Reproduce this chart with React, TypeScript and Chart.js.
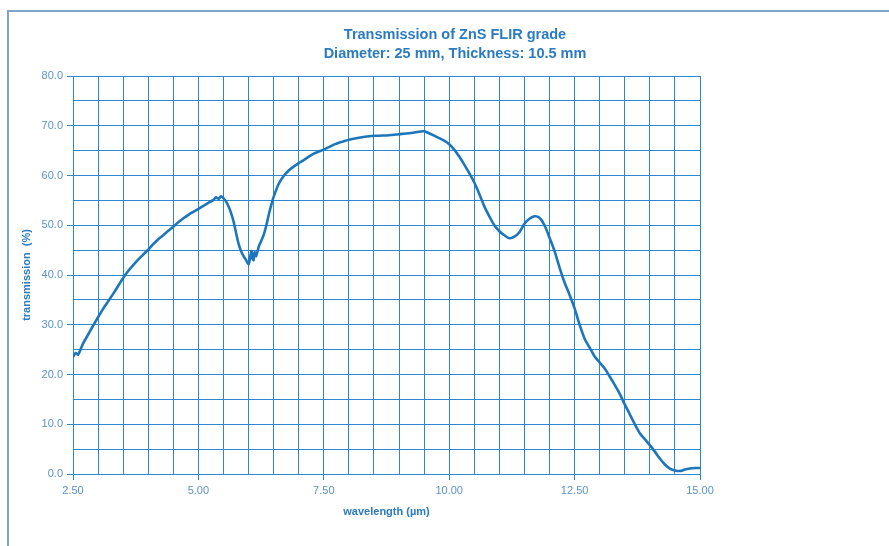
import React, { useEffect, useRef } from "react";
import { Chart, registerables } from "chart.js";

Chart.register(...registerables);

const TITLE_LINES = ["Transmission of ZnS FLIR grade", "Diameter: 25 mm, Thickness: 10.5 mm"];
const X_TITLE = "wavelength (µm)";
const Y_TITLE = "transmission  (%)";

const wavelengths = [
  2.5, 2.55, 2.6, 2.7, 2.8, 2.9, 3.0, 3.1, 3.2, 3.3, 3.4, 3.5, 3.6, 3.7, 3.8, 3.9,
  4.0, 4.1, 4.2, 4.3, 4.4, 4.5, 4.6, 4.7, 4.8, 4.9, 5.0, 5.1, 5.2, 5.3, 5.35, 5.4,
  5.45, 5.5, 5.55, 5.6, 5.65, 5.7, 5.75, 5.8, 5.85, 5.9, 5.95, 6.0, 6.03, 6.06, 6.08,
  6.1, 6.12, 6.15, 6.2, 6.25, 6.3, 6.35, 6.4, 6.45, 6.5, 6.6, 6.7, 6.8, 6.9, 7.0,
  7.1, 7.2, 7.3, 7.4, 7.5, 7.6, 7.7, 7.8, 7.9, 8.0, 8.2, 8.4, 8.6, 8.8, 9.0, 9.2,
  9.4, 9.5, 9.6, 9.7, 9.8, 9.9, 10.0, 10.1, 10.2, 10.3, 10.4, 10.5, 10.6, 10.7,
  10.8, 10.9, 11.0, 11.1, 11.2, 11.3, 11.4, 11.5, 11.6, 11.7, 11.8, 11.9, 12.0,
  12.1, 12.2, 12.3, 12.4, 12.5, 12.6, 12.7, 12.8, 12.9, 13.0, 13.1, 13.2, 13.3,
  13.4, 13.5, 13.6, 13.7, 13.8, 13.9, 14.0, 14.1, 14.2, 14.3, 14.4, 14.5, 14.6,
  14.7, 14.8, 14.9, 15.0,
];

const transmission = [
  23.5, 24.3, 24.0, 26.2, 28.0, 29.8, 31.5, 33.2, 34.7, 36.2, 37.8, 39.4, 40.8, 42.0, 43.1, 44.1,
  45.1, 46.2, 47.2, 48.0, 48.9, 49.7, 50.6, 51.4, 52.1, 52.7, 53.3, 53.9, 54.5, 55.1, 55.6, 55.3,
  55.8, 55.4, 54.8, 53.8, 52.5, 50.8, 48.5, 46.3, 44.8, 43.8, 43.0, 42.2, 43.5, 44.8, 43.2,
  43.0, 44.6, 43.8, 45.6, 46.8, 48.0, 49.8, 52.0, 54.0, 55.7, 58.3, 59.9, 61.0, 61.8, 62.5,
  63.1, 63.8, 64.4, 64.8, 65.2, 65.7, 66.2, 66.6, 66.9, 67.2, 67.6, 67.9, 68.0, 68.1, 68.3, 68.5,
  68.8, 68.9, 68.5, 68.0, 67.5, 67.0, 66.3, 65.2, 63.8, 62.2, 60.5, 58.6, 56.3, 53.8,
  51.8, 50.0, 48.8, 48.0, 47.4, 47.7, 48.6, 50.3, 51.3, 51.8, 51.5, 50.0, 47.5,
  44.8, 41.5, 38.5, 36.0, 33.3, 30.0, 27.2, 25.4, 23.6, 22.4, 21.2, 19.6, 17.9,
  16.1, 14.0, 12.0, 10.0, 8.2, 7.0, 5.8, 4.5, 3.1, 1.9, 1.1, 0.7, 0.6,
  0.9, 1.1, 1.2, 1.2,
];

const X_MIN = 2.5;
const X_MAX = 15;
const X_STEP = 0.5;
const X_LABEL_EVERY = 2.5;
const Y_MIN = 0;
const Y_MAX = 80;
const Y_STEP = 5;
const Y_LABEL_EVERY = 10;

const GRID = "#2f87cc";
const LINE = "#1c76bc";
const TEXT = "#2a7bc2";
const TICK_TEXT = "#5b93c9";
const FONT = "'Liberation Sans', Arial, sans-serif";

const isMultiple = (v: number, m: number) => Math.abs(v / m - Math.round(v / m)) < 1e-6;

const titlePlugin = {
  id: "twoLineTitle",
  afterDraw(chart: any) {
    const ctx = chart.ctx;
    ctx.save();
    ctx.fillStyle = TEXT;
    ctx.font = `bold 14.5px ${FONT}`;
    ctx.textAlign = "center";
    ctx.textBaseline = "middle";
    ctx.fillText(TITLE_LINES[0], 455, 35);
    ctx.fillText(TITLE_LINES[1], 455, 54);
    ctx.restore();
  },
};

export default function App() {
  const canvasRef = useRef<HTMLCanvasElement | null>(null);

  useEffect(() => {
    if (!canvasRef.current) return;
    const points = wavelengths.map((x, i) => ({ x, y: transmission[i] }));
    const chart = new Chart(canvasRef.current, {
      type: "line",
      data: {
        datasets: [
          {
            data: points,
            borderColor: LINE,
            borderWidth: 2.6,
            pointRadius: 0,
            tension: 0.3,
            fill: false,
          },
        ],
      },
      plugins: [titlePlugin],
      options: {
        animation: false,
        responsive: false,
        maintainAspectRatio: false,
        parsing: true,
        layout: { padding: { left: 16, right: 189, top: 76, bottom: 23 } },
        plugins: {
          legend: { display: false },
          title: { display: false },
          tooltip: { enabled: false },
        },
        scales: {
          x: {
            type: "linear",
            min: X_MIN,
            max: X_MAX,
            afterBuildTicks(scale: any) {
              const t = [];
              for (let v = X_MIN; v <= X_MAX + 1e-9; v += X_STEP) t.push({ value: v });
              scale.ticks = t;
            },
            afterFit(scale: any) {
              scale.height = 49;
            },
            border: { color: GRID, width: 1 },
            grid: {
              color: GRID,
              lineWidth: 1,
              tickLength: 6,
              tickColor: (c: any) => (isMultiple(c.tick.value - X_MIN, X_LABEL_EVERY) ? GRID : "rgba(0,0,0,0)"),
            },
            ticks: {
              autoSkip: false,
              maxRotation: 0,
              padding: 4,
              color: TICK_TEXT,
              font: { family: FONT, size: 11 },
              callback: (v: any) => (isMultiple(Number(v) - X_MIN, X_LABEL_EVERY) ? Number(v).toFixed(2) : ""),
            },
            title: {
              display: true,
              text: X_TITLE,
              color: TEXT,
              font: { family: FONT, size: 11, weight: "bold" },
            },
          },
          y: {
            type: "linear",
            min: Y_MIN,
            max: Y_MAX,
            afterBuildTicks(scale: any) {
              const t = [];
              for (let v = Y_MIN; v <= Y_MAX + 1e-9; v += Y_STEP) t.push({ value: v });
              scale.ticks = t;
            },
            afterFit(scale: any) {
              scale.width = 57;
            },
            border: { color: GRID, width: 1 },
            grid: {
              color: GRID,
              lineWidth: 1,
              tickLength: 6,
              tickColor: (c: any) => (isMultiple(c.tick.value, Y_LABEL_EVERY) ? GRID : "rgba(0,0,0,0)"),
            },
            ticks: {
              autoSkip: false,
              padding: 4,
              color: TICK_TEXT,
              font: { family: FONT, size: 11 },
              callback: (v: any) => (isMultiple(Number(v), Y_LABEL_EVERY) ? Number(v).toFixed(1) : ""),
            },
            title: {
              display: true,
              text: Y_TITLE,
              color: TEXT,
              font: { family: FONT, size: 11, weight: "bold" },
            },
          },
        },
      } as any,
    });
    return () => chart.destroy();
  }, []);

  return (
    <div style={{ position: "fixed", left: 0, top: 0, width: 889, height: 546, background: "#ffffff" }}>
      <div
        style={{
          position: "absolute",
          left: 7,
          top: 10,
          right: 0,
          bottom: 0,
          borderTop: "2px solid #7ea5c7",
          borderLeft: "2px solid #7ea5c7",
        }}
      />
      <canvas ref={canvasRef} width={889} height={546} style={{ position: "absolute", left: 0, top: 0, width: 889, height: 546 }} />
    </div>
  );
}
